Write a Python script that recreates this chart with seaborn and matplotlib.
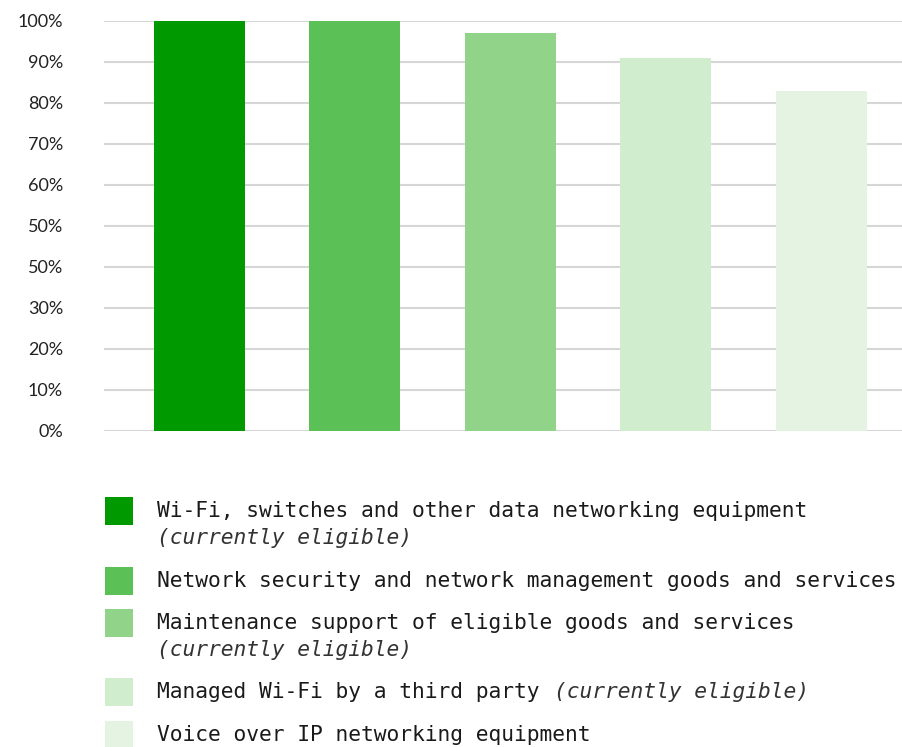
import matplotlib
matplotlib.use("Agg")
import matplotlib.pyplot as plt
import pandas as pd
import seaborn as sns

# Share of respondents per eligible category
labels = [
    "Wi-Fi, switches and other data networking equipment",
    "Network security and network management goods and services",
    "Maintenance support of eligible goods and services",
    "Managed Wi-Fi by a third party",
    "Voice over IP networking equipment",
]
notes = ["(currently eligible)", "", "(currently eligible)", "(currently eligible)", ""]
note_inline = [False, False, False, True, False]
values = [100, 100, 97, 91, 83]
colors = ["#009a00", "#5bc157", "#92d38a", "#d0edcd", "#e5f4e2"]
tick_values = [0, 10, 20, 30, 40, 50, 60, 70, 80, 90, 100]
tick_labels = ["0%", "10%", "20%", "30%", "50%", "50%", "60%", "70%", "80%", "90%", "100%"]

df = pd.DataFrame({"category": labels, "value": values})

sns.set_style("white")
W, H = 902, 747
fig = plt.figure(figsize=(W / 100, H / 100), dpi=100)

# axes placed in pixel units
x0, x1 = 104, 902
y_top, y_bot = 21, 431
ax = fig.add_axes([x0 / W, 1 - y_bot / H, (x1 - x0) / W, (y_bot - y_top) / H])

sns.barplot(data=df, x="category", y="value", hue="category",
            palette=colors, width=0.585, legend=False, ax=ax,
            saturation=1, linewidth=0, zorder=3)

ax.set_ylim(0, 100)
ax.set_xlim(-0.614, 4.518)
ax.set_yticks(tick_values)
ax.set_yticklabels(tick_labels, fontfamily="Lato", fontsize=13, color="#222222")
ax.tick_params(axis="y", length=0, pad=29.5)
ax.set_xticks([])
ax.set_xlabel("")
ax.set_ylabel("")
for s in ax.spines.values():
    s.set_visible(False)
ax.yaxis.grid(True, color="#d6d6d6", linewidth=1.5, zorder=0)
ax.set_axisbelow(True)
for lab in ax.get_yticklabels():
    lab.set_verticalalignment("center_baseline")

# legend drawn below the plot
mono = "DejaVu Sans Mono"
fs = 15.35
char_w = 12.8
rows_y = [511, 581, 623, 692, 735]
line_h = 27
for lab, note, inline, col, yc in zip(labels, notes, note_inline, colors, rows_y):
    fig.patches.append(plt.Rectangle((105 / W, 1 - (yc + 14) / H), 28 / W, 28 / H,
                                     transform=fig.transFigure, facecolor=col,
                                     edgecolor="none"))
    fig.text(157 / W, 1 - yc / H, lab, fontfamily=mono, fontsize=fs,
             color="#1a1a1a", va="center")
    if note:
        if inline:
            nx = 157 + (len(lab) + 1) * char_w
            ny = yc
        else:
            nx = 157
            ny = yc + line_h
        fig.text(nx / W, 1 - ny / H, note, fontfamily=mono, fontsize=fs,
                 style="italic", color="#333333", va="center")

fig.savefig("out.png", dpi=100)
